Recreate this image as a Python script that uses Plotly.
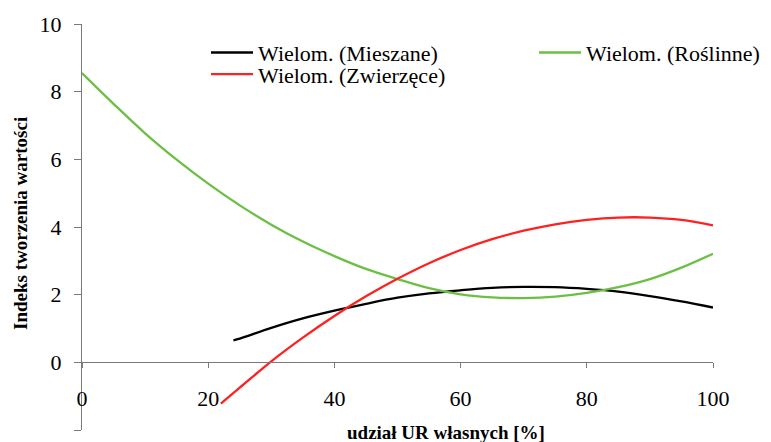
import plotly.graph_objects as go

# ---- data ----
x_mieszane = [24, 25, 30, 35, 40, 45, 50, 55, 60, 65, 70, 75, 80, 85, 90, 95, 100]
y_mieszane = [0.65, 0.70, 1.02, 1.30, 1.53, 1.73, 1.91, 2.04, 2.13, 2.20, 2.23, 2.22, 2.17, 2.09, 1.96, 1.80, 1.62]

x_roslinne = [0, 5, 10, 15, 20, 25, 30, 35, 40, 45, 50, 55, 60, 65, 70, 75, 80, 85, 90, 95, 100]
y_roslinne = [8.55, 7.64, 6.77, 5.99, 5.28, 4.64, 4.07, 3.57, 3.14, 2.76, 2.46, 2.19, 2.01, 1.92, 1.90, 1.94, 2.05, 2.22, 2.46, 2.80, 3.21]

x_zwierzece = [22, 25, 30, 35, 40, 45, 50, 55, 60, 65, 70, 75, 80, 85, 90, 95, 100]
y_zwierzece = [-1.22, -0.75, 0.03, 0.73, 1.37, 1.95, 2.47, 2.93, 3.32, 3.64, 3.89, 4.08, 4.21, 4.28, 4.28, 4.21, 4.05]

names = ["Wielom. (Mieszane)", "Wielom. (Roślinne)", "Wielom. (Zwierzęce)"]
colors = ["#000000", "#6cbf45", "#ff2020"]

x_ticks = [0, 20, 40, 60, 80, 100]
y_ticks = [-2, 0, 2, 4, 6, 8, 10]

FONT = "Liberation Serif, Times New Roman, DejaVu Serif, serif"
AXC = "#7a7a7a"

fig = go.Figure()
fig.add_trace(go.Scatter(x=x_mieszane, y=y_mieszane, mode="lines", name=names[0],
                         line=dict(color=colors[0], width=2.3, shape="spline"), legend="legend"))
fig.add_trace(go.Scatter(x=x_roslinne, y=y_roslinne, mode="lines", name=names[1],
                         line=dict(color=colors[1], width=2.3, shape="spline"), legend="legend2"))
fig.add_trace(go.Scatter(x=x_zwierzece, y=y_zwierzece, mode="lines", name=names[2],
                         line=dict(color=colors[2], width=2.3, shape="spline"), legend="legend3"))

W, H = 771, 442
leg_common = dict(xref="container", yref="container", xanchor="left", yanchor="middle",
                  font=dict(family=FONT, size=22, color="black"), bgcolor="rgba(0,0,0,0)",
                  borderwidth=0, itemwidth=42)

fig.update_layout(
    width=W, height=H,
    margin=dict(l=82, r=58, t=24, b=12, autoexpand=False),
    paper_bgcolor="white", plot_bgcolor="white",
    font=dict(family=FONT, color="black"),
    showlegend=True,
    legend=dict(x=206 / W, y=1 - 52.7 / H, **leg_common),
    legend2=dict(x=534 / W, y=1 - 52.7 / H, **leg_common),
    legend3=dict(x=206 / W, y=1 - 74.3 / H, **leg_common),
    xaxis=dict(range=[0, 100], tickvals=x_ticks, ticktext=[str(v) for v in x_ticks],
               showgrid=False, zeroline=False, showline=True, linecolor=AXC, linewidth=1.3,
               ticks="outside", ticklen=5, tickcolor=AXC, tickwidth=1.3,
               anchor="free", position=2 / 12, tickfont=dict(family=FONT, size=22, color="black"),
               ticklabelstandoff=11),
    yaxis=dict(range=[-2, 10], tickvals=y_ticks, ticktext=[str(v) for v in y_ticks],
               showgrid=False, zeroline=False, showline=True, linecolor=AXC, linewidth=1.3,
               ticks="outside", ticklen=7, tickcolor=AXC, tickwidth=1.3,
               tickfont=dict(family=FONT, size=22, color="black"), ticklabelstandoff=8),
    annotations=[
        dict(text="<b>udział UR własnych [%]</b>", xref="paper", yref="paper",
             x=(446 - 82) / 631, y=(430 - 420) / 406, xanchor="center", yanchor="top",
             showarrow=False, font=dict(family=FONT, size=19, color="black")),
        dict(text="<b>Indeks tworzenia wartości</b>", xref="paper", yref="paper",
             x=(21 - 82) / 631, y=(430 - 224) / 406, xanchor="center", yanchor="middle",
             textangle=-90, showarrow=False, font=dict(family=FONT, size=19, color="black")),
    ],
)

fig.write_html("out.html", config={"displayModeBar": False},
               post_script="document.body.style.margin='0';document.body.style.overflow='hidden';")
